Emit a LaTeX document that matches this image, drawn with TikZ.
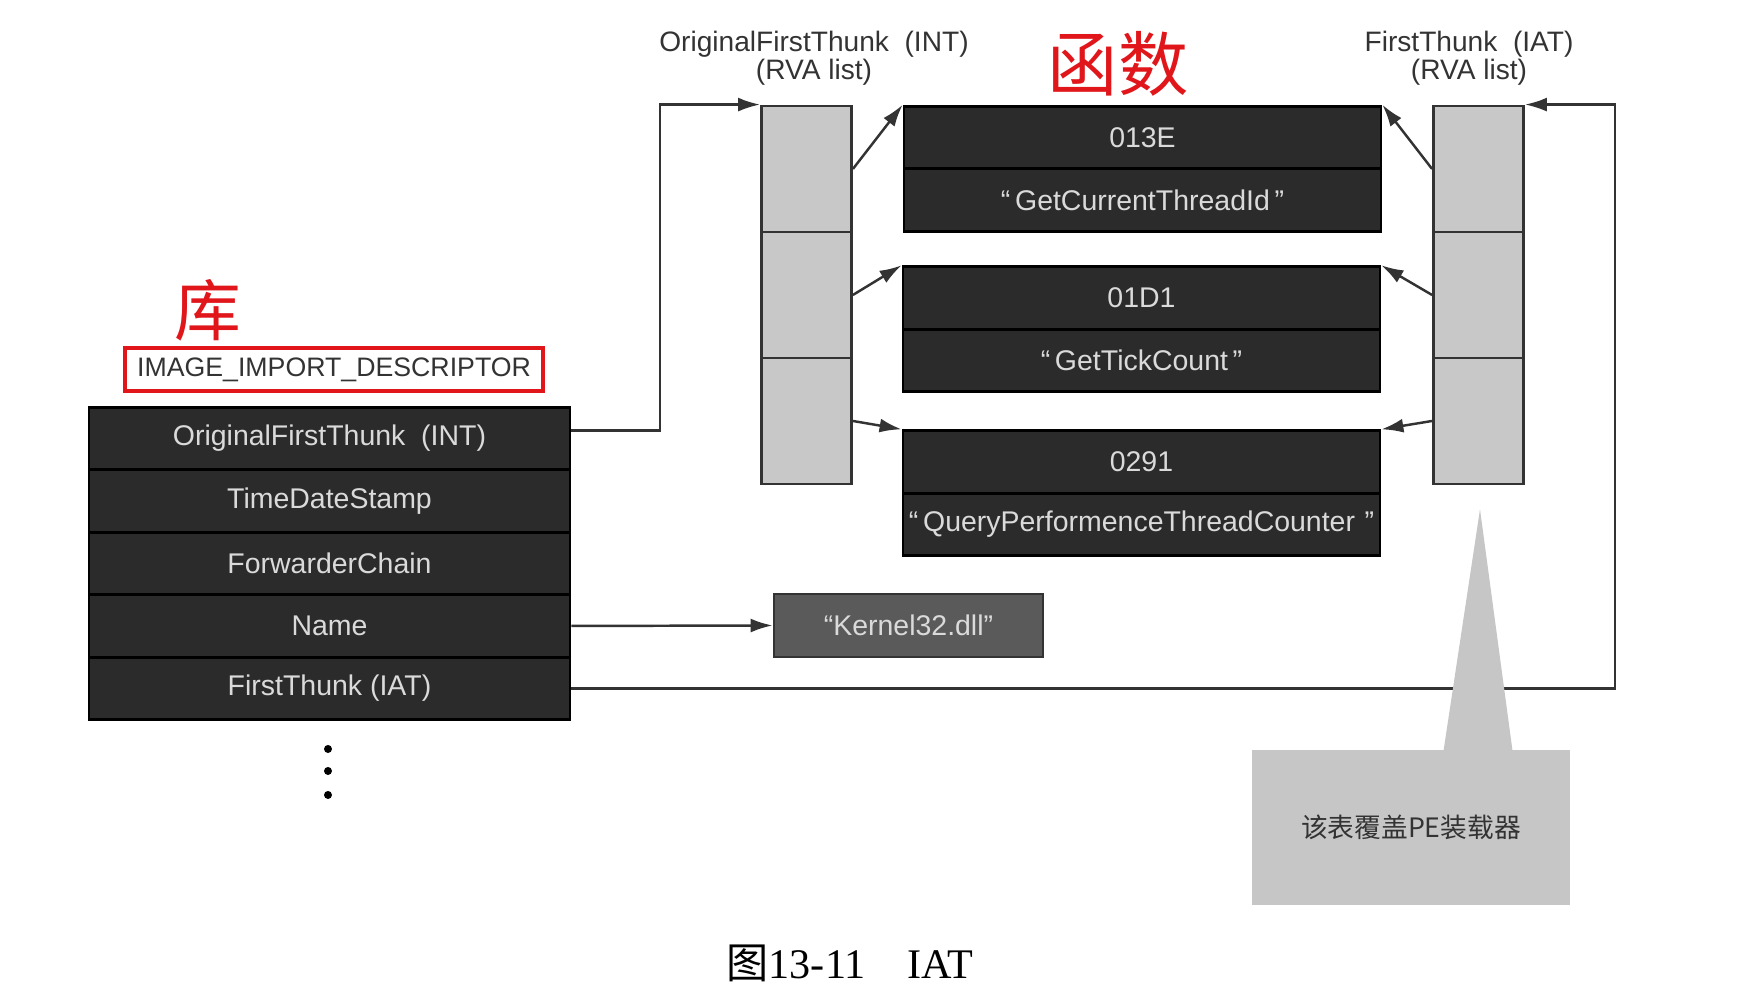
\documentclass[tikz,border=0pt]{standalone}
\usepackage{fontspec}
\setmainfont{Liberation Serif}
\setsansfont{Liberation Sans}
\newfontfamily\cjk{Noto Sans CJK SC}
\usetikzlibrary{arrows.meta}
\usetikzlibrary{positioning}

\definecolor{darkfill}{HTML}{2B2B2B}
\definecolor{rowtext}{HTML}{DADADA}
\definecolor{rvagray}{HTML}{C8C8C8}
\definecolor{dllgray}{HTML}{5A5A5A}
\definecolor{notegray}{HTML}{C6C6C6}
\definecolor{inkgray}{HTML}{333333}
\definecolor{annotred}{HTML}{E0161B}

\tikzset{
  darkrow/.style={rectangle, draw=black, line width=0.8pt, fill=darkfill, text=rowtext, minimum height=0.625cm, inner sep=0pt, font=\sffamily\fontsize{8.1}{10}\selectfont},
  rvacell/.style={rectangle, draw=inkgray, line width=0.8pt, fill=rvagray, minimum width=0.9cm, minimum height=1.26cm, inner sep=0pt},
  listlabel/.style={align=center, text=inkgray, font=\sffamily\fontsize{8}{8}\selectfont},
  handnote/.style={text=annotred, inner sep=0pt},
  link/.style={-{Latex[length=2.2mm,width=1.4mm]}, line width=0.7pt, draw=inkgray}
}

\begin{document}
\begin{tikzpicture}[node distance=0.625cm]
    \useasboundingbox (0,0) rectangle (17.48,10);

    % Import descriptor
    \node [rectangle, draw=annotred, line width=1pt, minimum width=4.18cm, minimum height=0.43cm, inner sep=0pt, text=inkgray, font=\sffamily\fontsize{7.6}{10}\selectfont] (desctitle) at (3.34,6.305) {IMAGE\_IMPORT\_DESCRIPTOR};
    \node [handnote, font=\cjk\fontsize{19}{19}\selectfont] (liblabel) at (2.08,6.90) {库};
    \node [darkrow, minimum width=4.81cm] (ofthunk) at (3.295,5.615) {OriginalFirstThunk\ \ (INT)};
    \node [darkrow, minimum width=4.81cm, below of=ofthunk] (tdstamp) {TimeDateStamp};
    \node [darkrow, minimum width=4.81cm, below of=tdstamp] (fwdchain) {ForwarderChain};
    \node [darkrow, minimum width=4.81cm, below of=fwdchain] (dllname) {Name};
    \node [darkrow, minimum width=4.81cm, below of=dllname] (fthunk) {FirstThunk\ (IAT)};
    \foreach \y/\n in {2.51/1, 2.29/2, 2.05/3}
        \node [circle, fill=black, inner sep=0pt, minimum size=0.08cm] (dot\n) at (3.28,\y) {};

    % RVA lists
    \node [listlabel] (intlabel) at (8.14,9.42) {OriginalFirstThunk\ \ (INT)\\(RVA list)};
    \node [rvacell] (int1) at (8.065,8.31) {};
    \node [rvacell, node distance=1.26cm, below of=int1] (int2) {};
    \node [rvacell, node distance=1.26cm, below of=int2] (int3) {};
    \node [listlabel] (iatlabel) at (14.69,9.42) {FirstThunk\ \ (IAT)\\(RVA list)};
    \node [rvacell] (iat1) at (14.785,8.31) {};
    \node [rvacell, node distance=1.26cm, below of=iat1] (iat2) {};
    \node [rvacell, node distance=1.26cm, below of=iat2] (iat3) {};

    % Hint / name entries
    \node [handnote, font=\cjk\fontsize{20}{20}\selectfont] (funclabel) at (11.18,9.36) {函数};
    \node [darkrow, minimum width=4.77cm] (hint1) at (11.425,8.625) {013E};
    \node [darkrow, minimum width=4.77cm, below of=hint1] (fname1) {“\,GetCurrentThreadId\,”};
    \node [darkrow, minimum width=4.77cm] (hint2) at (11.415,7.02) {01D1};
    \node [darkrow, minimum width=4.77cm, below of=hint2] (fname2) {“\,GetTickCount\,”};
    \node [darkrow, minimum width=4.77cm] (hint3) at (11.415,5.38) {0291};
    \node [darkrow, minimum width=4.77cm, below of=hint3] (fname3) {“\,QueryPerformenceThreadCounter\,\,”};

    % DLL name
    \node [darkrow, fill=dllgray, draw=inkgray, minimum width=2.69cm, minimum height=0.63cm] (kernel) at (9.085,3.745) {“Kernel32.dll”};

    % Arrows
    \draw [link] ([yshift=0.08cm]ofthunk.east) -| ([xshift=-1cm]int1.north west) -- (int1.north west);
    \draw [link] (dllname.east) -- (kernel.west);
    \draw [link] (fthunk.east) -| ([xshift=0.9cm]iat1.north east) -- (iat1.north east);
    \foreach \i in {1,2,3} {
        \draw [link] (int\i.east) -- (hint\i.north west);
        \draw [link] (iat\i.west) -- (hint\i.north east);
    }

    % Loader note
    \node [rectangle, fill=notegray, minimum width=3.18cm, minimum height=1.55cm, text=inkgray, font=\cjk\fontsize{7.6}{9}\selectfont] (loader) at (14.11,1.725) {该表覆盖PE装载器};
    \fill [notegray] ([xshift=0.32cm, yshift=-0.05cm]loader.north) -- ([xshift=0.69cm, yshift=2.4cm]loader.north) -- ([xshift=1.02cm, yshift=-0.05cm]loader.north) -- cycle;

    % Caption
    \node [font=\rmfamily\fontsize{12}{14}\selectfont, text=black] (caption) at (8.50,0.37) {{\cjk 图}13-11\quad IAT};

\end{tikzpicture}
\end{document}
